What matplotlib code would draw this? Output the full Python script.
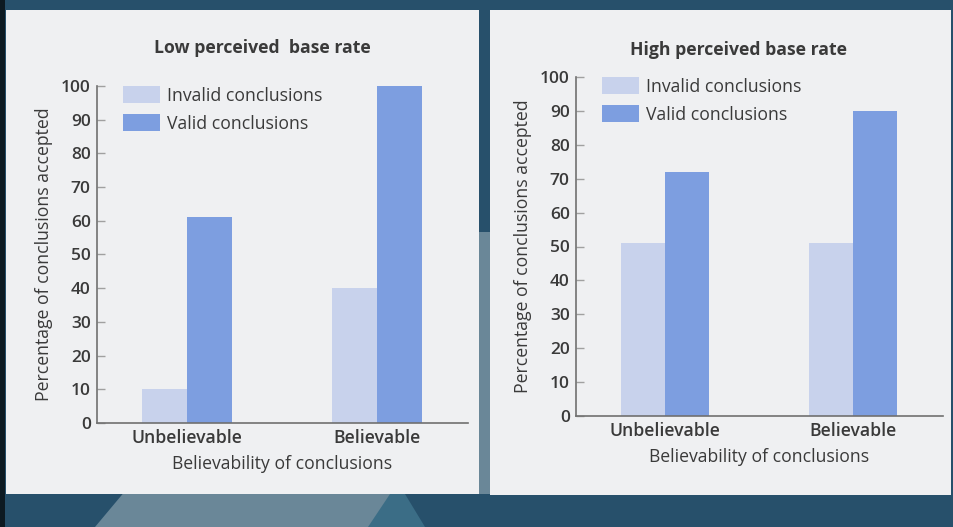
import matplotlib
matplotlib.use("Agg")
import matplotlib.pyplot as plt
from matplotlib.patches import Rectangle, Polygon, Patch
import numpy as np

categories = ["Unbelievable", "Believable"]
series_names = ["Invalid conclusions", "Valid conclusions"]
low_invalid = [10, 40]
low_valid = [61, 100]
high_invalid = [51, 51]
high_valid = [72, 90]
yticks = [0, 10, 20, 30, 40, 50, 60, 70, 80, 90, 100]
titles = ["Low perceived  base rate", "High perceived base rate"]
xlabel = "Believability of conclusions"
ylabel = "Percentage of conclusions accepted"

W, H = 954, 527
plt.rcParams['font.family'] = ['Open Sans', 'DejaVu Sans']
fig = plt.figure(figsize=(W / 100, H / 100), dpi=100)
fig.patch.set_facecolor('#27506b')

def px_rect(x0, y0, x1, y1, **kw):
    return Rectangle((x0 / W, 1 - y1 / H), (x1 - x0) / W, (y1 - y0) / H,
                     transform=fig.transFigure, **kw)

def px_poly(pts, **kw):
    return Polygon([(x / W, 1 - y / H) for x, y in pts], closed=True,
                   transform=fig.transFigure, **kw)

# background decoration
fig.patches.append(px_poly([(95, 527), (260, 330), (479, 232), (492, 232),
                            (492, 494), (400, 494), (372, 527)], facecolor='#6a8798',
                           edgecolor='none', zorder=0))
fig.patches.append(px_poly([(368, 527), (390, 494), (405, 494), (425, 527)],
                           facecolor='#3b6d86', edgecolor='none', zorder=0))
fig.patches.append(px_rect(0, 0, 5, 527, facecolor='#0d1a22', edgecolor='none', zorder=0))
# panels
fig.patches.append(px_rect(6, 10, 479, 494, facecolor='#eff0f2', edgecolor='none', zorder=1))
fig.patches.append(px_rect(490, 10, 951, 495, facecolor='#eff0f2', edgecolor='none', zorder=1))

invalid_color = '#c8d2ec'
valid_color = '#7d9ee0'
text_color = '#3a3a3a'
fs = 12.7
tfs = 12.5

def make_axes(spine_x, right_x, zero_y, top_y):
    ax = fig.add_axes([spine_x / W, 1 - zero_y / H, (right_x - spine_x) / W,
                       (zero_y - top_y) / H])
    ax.set_facecolor('none')
    ax.set_zorder(5)
    return ax

panels = [
    (make_axes(97, 468, 423, 86), low_invalid, low_valid, titles[0], 48, 262),
    (make_axes(576, 943, 416, 77), high_invalid, high_valid, titles[1], 50, 738),
]

x = np.arange(len(categories))
bw = 0.236
for ax, inv, val, title, ty, tx in panels:
    ax.bar(x - bw / 2, inv, width=bw, color=invalid_color, zorder=2)
    ax.bar(x + bw / 2, val, width=bw, color=valid_color, zorder=2)
    ax.set_xlim(-0.474, 1.479)
    ax.set_ylim(0, 100)
    ax.set_yticks(yticks)
    ax.set_xticks(x)
    ax.set_xticklabels(categories)
    for s in ['top', 'right']:
        ax.spines[s].set_visible(False)
    for s in ['left', 'bottom']:
        ax.spines[s].set_color('#707070')
        ax.spines[s].set_linewidth(1.2)
    ax.tick_params(axis='y', direction='in', length=6, width=1, color='#a0a0a0',
                   pad=4.5, labelsize=tfs, labelcolor=text_color)
    ax.tick_params(axis='x', length=0, pad=4.5, labelsize=fs, labelcolor=text_color)
    for lab in ax.get_yticklabels() + ax.get_xticklabels():
        lab.set_fontweight('semibold')
    ax.set_xlabel(xlabel, fontsize=fs, color=text_color, labelpad=5.5,
                  fontweight='medium')
    ax.set_ylabel(ylabel, fontsize=fs, color=text_color, labelpad=6,
                  fontweight='medium')
    pos = ax.get_position()
    ax.set_title(title, fontsize=fs, fontweight='bold', color=text_color, pad=0,
                 x=(tx / W - pos.x0) / pos.width,
                 y=(1 - ty / H - pos.y0) / pos.height, va='center', ha='center')
    handles = [Patch(facecolor=invalid_color, edgecolor='none'),
               Patch(facecolor=valid_color, edgecolor='none')]
    ax.legend(handles, series_names, loc='upper left',
              bbox_to_anchor=(26 / (pos.width * W), 1.0),
              frameon=False, fontsize=fs, borderpad=0, borderaxespad=0,
              handlelength=2.1, handleheight=1.14, handletextpad=0.4,
              labelspacing=0.52, labelcolor=text_color)

fig.savefig('out.png', dpi=100, facecolor=fig.get_facecolor())
